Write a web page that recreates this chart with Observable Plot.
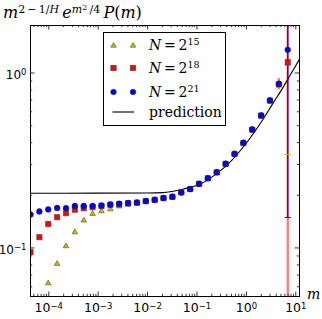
<!DOCTYPE html>
<html><head><meta charset="utf-8">
<script src="https://cdn.jsdelivr.net/npm/d3@7"></script>
<script src="https://cdn.jsdelivr.net/npm/@observablehq/plot@0.6"></script>
<style>
body{margin:0;background:#fff;}
#wrap{position:relative;width:322px;height:319px;overflow:hidden;}
#title{position:absolute;left:3px;top:4px;font-family:"DejaVu Serif";font-size:16px;line-height:18px;white-space:nowrap;}
#title sup{font-size:11px;vertical-align:5px;line-height:0;}
#title sup sup{font-size:8px;vertical-align:3px;}
#xlab{position:absolute;left:307px;top:286px;font-family:"DejaVu Serif";font-style:italic;font-size:14px;}
#legend{position:absolute;left:103px;top:32px;width:123px;height:94px;border:1px solid #000;background:#fff;box-sizing:border-box;}
.row{position:absolute;left:0;height:20px;width:121px;}
.row svg{position:absolute;left:0;top:0;}
.row span{position:absolute;left:45px;top:1px;font-family:"DejaVu Serif";font-size:14px;white-space:nowrap;}
.row span sup{font-size:9.5px;vertical-align:5px;line-height:0;}
</style></head><body><div id="wrap"></div>
<script>
// ---- data ----
const mValues = [4.27e-5, 6.45e-5, 9.75e-5, 1.475e-4, 2.23e-4, 3.37e-4, 5.10e-4, 7.71e-4, 1.165e-3, 1.762e-3,
  2.66e-3, 4.03e-3, 6.09e-3, 9.20e-3, 1.393e-2, 2.10e-2, 3.18e-2, 4.81e-2, 7.28e-2, 0.110,
  0.166, 0.251, 0.380, 0.575, 0.869, 1.315, 1.99, 3.00, 4.54, 6.87];
const seriesN15 = [null, null, 0.0629, 0.0812, 0.1024, 0.1231, 0.1436, 0.1568, 0.1623, 0.1665,
  0.1730, 0.1770, 0.1796, 0.1840, 0.1875, 0.1920, 0.1955, 0.2070, 0.2165, 0.2320,
  0.2500, 0.2705, 0.3020, 0.3445, 0.3985, 0.4750, 0.5710, 0.6960, 0.8650, 1.133];
const seriesN18 = [0.0946, 0.1153, 0.1371, 0.1500, 0.1581, 0.1653, 0.1688, 0.1711, 0.1734, 0.1765,
  0.1780, 0.1800, 0.1815, 0.1850, 0.1880, 0.1925, 0.1960, 0.2080, 0.2175, 0.2330,
  0.2500, 0.2700, 0.3020, 0.3440, 0.3980, 0.4740, 0.5700, 0.6950, 0.8600, 1.153];
const seriesN21 = [0.1553, 0.1616, 0.1660, 0.1694, 0.1689, 0.1738, 0.1738, 0.1738, 0.1750, 0.1772,
  0.1789, 0.1808, 0.1820, 0.1856, 0.1886, 0.1931, 0.1962, 0.2075, 0.2168, 0.2321,
  0.2505, 0.2711, 0.3028, 0.3453, 0.3991, 0.4755, 0.5717, 0.6963, 0.8677, 1.357];
// error bars (m, low, high) per series
const errN15 = [[6.87, 0.342, 5]];
const errN18 = [[4.54, 0.80, 0.93], [6.87, 0.01, 5]];
const errN21 = [[6.87, 0.1494, 5]];
// prediction curve
const predM = [4.27e-5, 1e-3, 1e-2, 2e-2, 5.4e-2, 0.12, 0.2, 0.35, 0.5, 1, 2, 3.5, 5, 8, 11.9];
const predV = [0.2056, 0.2057, 0.2062, 0.2072, 0.2175, 0.2327, 0.254, 0.287, 0.316, 0.398, 0.525, 0.675, 0.79, 0.99, 1.20];
const xTicks = [1e-4, 1e-3, 1e-2, 1e-1, 1e0, 1e1];
const yTicks = [1e-1, 1e0];
const xDomain = [4.266e-5, 11.88];
const yDomain = [0.0528, 1.868];

// ---- build ----
const W = 322, H = 319, mL = 30, mR = 23, mT = 25, mB = 23;
const fw = W - mL - mR, fh = H - mT - mB;
const fmt = d => "10|" + Math.round(Math.log10(d));
const minors = (dom) => {
  const out = [];
  const e0 = Math.floor(Math.log10(dom[0])), e1 = Math.ceil(Math.log10(dom[1]));
  for (let e = e0; e <= e1; e++) for (let k = 2; k <= 9; k++) {
    const v = k * Math.pow(10, e);
    if (v >= dom[0] && v <= dom[1]) out.push(v);
  }
  return out;
};
const minorX = minors(xDomain), minorY = minors(yDomain);
const pts = (ser) => mValues.map((m, i) => ({m, v: ser[i]})).filter(d => d.v != null);
const pred = predM.map((m, i) => ({m, v: predV[i]}));
const errRows = (e) => e.map(([m, lo, hi]) => ({m, lo, hi}));
const capSym = {draw(ctx, size) { const w = Math.sqrt(size); ctx.moveTo(-w, 0); ctx.lineTo(w, 0); }};

const tickMarks = [];
const addTicks = (vals, len) => {
  tickMarks.push(Plot.tickX(vals, {x: d => d, insetTop: fh - len, stroke: "black", strokeWidth: 0.8}));
  tickMarks.push(Plot.tickX(vals, {x: d => d, insetBottom: fh - len, stroke: "black", strokeWidth: 0.8}));
};
const addTicksY = (vals, len) => {
  tickMarks.push(Plot.tickY(vals, {y: d => d, insetRight: fw - len, stroke: "black", strokeWidth: 0.8}));
  tickMarks.push(Plot.tickY(vals, {y: d => d, insetLeft: fw - len, stroke: "black", strokeWidth: 0.8}));
};
addTicks(xTicks, 4.5); addTicks(minorX, 2.2);
addTicksY(yTicks, 4.5); addTicksY(minorY, 2.2);

const chart = Plot.plot({
  width: W, height: H,
  marginLeft: mL, marginRight: mR, marginTop: mT, marginBottom: mB,
  style: {fontFamily: "DejaVu Sans", fontSize: "12px", background: "white", color: "black"},
  x: {type: "log", domain: xDomain},
  y: {type: "log", domain: yDomain},
  marks: [
    Plot.axisX({ticks: xTicks, tickFormat: fmt, tickSize: 0, tickPadding: 7, label: null, fontSize: 12.5}),
    Plot.axisY({ticks: yTicks, tickFormat: fmt, tickSize: 0, tickPadding: 4, dy: 2, label: null, fontSize: 12}),
    ...tickMarks,
    Plot.line(pred, {x: "m", y: "v", stroke: "black", strokeWidth: 1.1, curve: "monotone-x", clip: true}),
    Plot.ruleX(errRows(errN18), {x: "m", y1: "lo", y2: "hi", stroke: "#ff0000", strokeOpacity: 0.5, strokeWidth: 2.4, clip: true}),
    Plot.ruleX(errRows(errN21), {x: "m", y1: "lo", y2: "hi", stroke: "#0000ff", strokeWidth: 1.2, clip: true}),
    Plot.dot(errRows(errN21), {x: "m", y: "lo", symbol: capSym, r: 1.7, stroke: "#0000ff", strokeWidth: 1, clip: true}),
    Plot.dot(errRows(errN15), {x: "m", y: "lo", symbol: capSym, r: 1.7, stroke: "#bfbf00", strokeWidth: 1, clip: true}),
    Plot.dot(pts(seriesN15), {x: "m", y: "v", symbol: "triangle", r: 2.1, fill: "#bfbf00", stroke: "#333", strokeWidth: 0.5, clip: true}),
    Plot.dot(pts(seriesN18), {x: "m", y: "v", symbol: "square", r: 3.0, fill: "#ff0000", stroke: "#333", strokeWidth: 0.5, clip: true}),
    Plot.dot(pts(seriesN21), {x: "m", y: "v", symbol: "circle", r: 2.9, fill: "#0000ff", stroke: "#222", strokeWidth: 0.5, clip: true}),
    Plot.frame({stroke: "black", strokeWidth: 1})
  ]
});
// turn "10|e" tick labels into 10 with a superscript exponent
const NS = "http://www.w3.org/2000/svg";
chart.querySelectorAll('g[aria-label$="tick label"] text').forEach(t => {
  const s = t.textContent;
  if (s.indexOf("|") < 0) return;
  const [b, e] = s.split("|");
  t.textContent = "";
  const t1 = document.createElementNS(NS, "tspan"); t1.textContent = b;
  const t2 = document.createElementNS(NS, "tspan"); t2.textContent = e.replace("-", "\u2212");
  t2.setAttribute("dy", "-0.45em"); t2.setAttribute("font-size", "8.5");
  t.append(t1, t2);
});
const wrap = document.getElementById("wrap");
wrap.appendChild(chart);

// title, axis label
const t = document.createElement("div");
t.id = "title";
t.innerHTML = '<i>m</i><sup>2\u2009\u2212\u20091/<i>H</i></sup>\u2009<i>e</i><sup><i>m</i><sup>2</sup>\u2009/4</sup>\u2009<i>P</i>(<i>m</i>)';
wrap.appendChild(t);
const xl = document.createElement("div");
xl.id = "xlab"; xl.textContent = "m";
wrap.appendChild(xl);

// legend
const legendItems = [
  {label: 'N', exp: "15", sym: "tri"},
  {label: 'N', exp: "18", sym: "sq"},
  {label: 'N', exp: "21", sym: "circ"},
  {label: null, text: "prediction", sym: "line"}
];
const rowTops = [3, 26, 50, 70];
const lg = document.createElement("div");
lg.id = "legend";
legendItems.forEach((it, i) => {
  const r = document.createElement("div");
  r.className = "row"; r.style.top = rowTops[i] + "px";
  let s = "";
  const xs = [9.5, 29];
  if (it.sym === "tri") s = xs.map(x => `<path d="M${x},6.5 L${x+2.8},11.2 L${x-2.8},11.2 Z" fill="#bfbf00" stroke="#333" stroke-width="0.5"/>`).join("");
  if (it.sym === "sq") s = xs.map(x => `<rect x="${x-2.7}" y="6.3" width="5.4" height="5.4" fill="#ff0000" stroke="#333" stroke-width="0.5"/>`).join("");
  if (it.sym === "circ") s = xs.map(x => `<circle cx="${x}" cy="9" r="2.8" fill="#0000ff" stroke="#222" stroke-width="0.5"/>`).join("");
  if (it.sym === "line") s = `<line x1="8.5" x2="30" y1="9" y2="9" stroke="black" stroke-width="1.1"/>`;
  r.innerHTML = `<svg width="40" height="20">${s}</svg>` +
    (it.label ? `<span><i>N</i>\u2009=\u20092<sup>${it.exp}</sup></span>` : `<span>${it.text}</span>`);
  lg.appendChild(r);
});
wrap.appendChild(lg);
</script>
</body></html>
